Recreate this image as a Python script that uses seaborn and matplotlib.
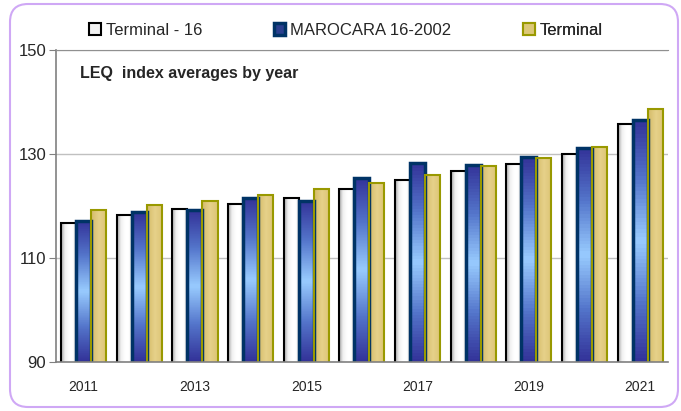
import numpy as np
import pandas as pd
import seaborn as sns
import matplotlib.pyplot as plt
from matplotlib.patches import FancyBboxPatch, Patch
from matplotlib.colors import LinearSegmentedColormap
from matplotlib.transforms import IdentityTransform

years = [str(y) for y in range(2011, 2022)]
terminal_16 = [116.8, 118.3, 119.4, 120.5, 121.6, 123.2, 125.1, 126.8, 128.1, 130.1, 135.7]
marocara = [117.2, 118.8, 119.2, 121.6, 121.0, 125.4, 128.3, 127.9, 129.4, 131.2, 136.6]
terminal = [119.2, 120.3, 121.0, 122.1, 123.2, 124.4, 126.0, 127.7, 129.2, 131.4, 138.6]
series_names = ['Terminal - 16', 'MAROCARA 16-2002', 'Terminal']
y_ticks = [90, 110, 130, 150]

df = pd.DataFrame({
    'year': years * 3,
    'value': terminal_16 + marocara + terminal,
    'series': [s for s in series_names for _ in years],
})

sns.set_style('white')
plt.rcParams['font.family'] = ['Liberation Sans Narrow', 'Liberation Sans', 'DejaVu Sans']

palette = ['#f2f2f2', '#2b3f8f', '#dcc878']
edges = ['#000000', '#003366', '#999900']
widths = [1.5, 2.5, 1.5]

fig = plt.figure(figsize=(6.81, 4.11), dpi=100)
ax = fig.add_axes([0.082, 0.119, 0.899, 0.759])

sns.barplot(data=df, x='year', y='value', hue='series', palette=palette,
            width=0.81, legend=False, ax=ax)
ax.set_ylim(90, 150)
xlim = ax.get_xlim()

# gradient fills clipped to each bar
cmaps = [
    LinearSegmentedColormap.from_list('w', ['#a8a8a8', '#f0f0f0', '#ffffff', '#ffffff', '#d8d8d8']),
    LinearSegmentedColormap.from_list('b', ['#333399', '#5577cc', '#99ccff', '#5577cc', '#333399']),
    LinearSegmentedColormap.from_list('g', ['#d4bb68', '#e6d18a', '#dcc474']),
]
grad_h = np.linspace(0, 1, 64).reshape(1, -1)
grad_v = np.linspace(0, 1, 64).reshape(-1, 1)
for i, cont in enumerate(ax.containers):
    for bar in cont:
        bar.set_facecolor('none')
        bar.set_edgecolor(edges[i])
        bar.set_linewidth(widths[i])
        bar.set_zorder(2)
        x0 = bar.get_x()
        x1 = x0 + bar.get_width()
        top = bar.get_height()
        img = grad_v if i == 1 else grad_h
        im = ax.imshow(img, cmap=cmaps[i], aspect='auto', origin='lower',
                       extent=[x0, x1, 90, top], zorder=1.5)
        im.set_clip_path(bar)
ax.set_xlim(xlim)
ax.set_ylim(90, 150)

ax.set_yticks(y_ticks)
ax.set_yticklabels([str(t) for t in y_ticks], fontsize=12)
ax.yaxis.grid(True, color='#c0c0c0', linewidth=1)
ax.set_axisbelow(True)

ax.set_xticks(range(0, len(years), 2))
ax.set_xticklabels(years[::2], fontsize=10)
ax.set_xticks(np.arange(-0.5, len(years), 1), minor=True)
ax.tick_params(axis='x', which='major', length=0, pad=13)
ax.tick_params(axis='x', which='minor', length=5, color='#808080', direction='out')
ax.tick_params(axis='y', length=5, color='#808080', direction='out', left=True, pad=2)
ax.set_xlabel('')
ax.set_ylabel('')

for s in ['left', 'bottom']:
    ax.spines[s].set_color('#808080')
    ax.spines[s].set_linewidth(1.2)
ax.spines['top'].set_color('#909090')
ax.spines['right'].set_visible(False)

ax.text(0.04, 0.925, 'LEQ  index averages by year', transform=ax.transAxes,
        fontsize=11.5, fontweight='bold', va='center', ha='left')

# one legend entry per item, placed like the original
legend_x = [0.054, 0.356, 0.763]
for i in range(3):
    h = Patch(facecolor=palette[i], edgecolor=edges[i], linewidth=widths[i])
    leg = ax.legend([h], [series_names[i]], loc='lower left',
                    bbox_to_anchor=(legend_x[i], 1.04), frameon=False, fontsize=12,
                    handlelength=0.7, handleheight=0.7, handletextpad=0.3,
                    borderpad=0, borderaxespad=0)
    ax.add_artist(leg)

fig.add_artist(FancyBboxPatch((10, 4), 668, 403, boxstyle='round,pad=0,rounding_size=18',
                              transform=IdentityTransform(), facecolor='none',
                              edgecolor='#cfa8f5', linewidth=1.5))

fig.savefig('out.png', dpi=100)
